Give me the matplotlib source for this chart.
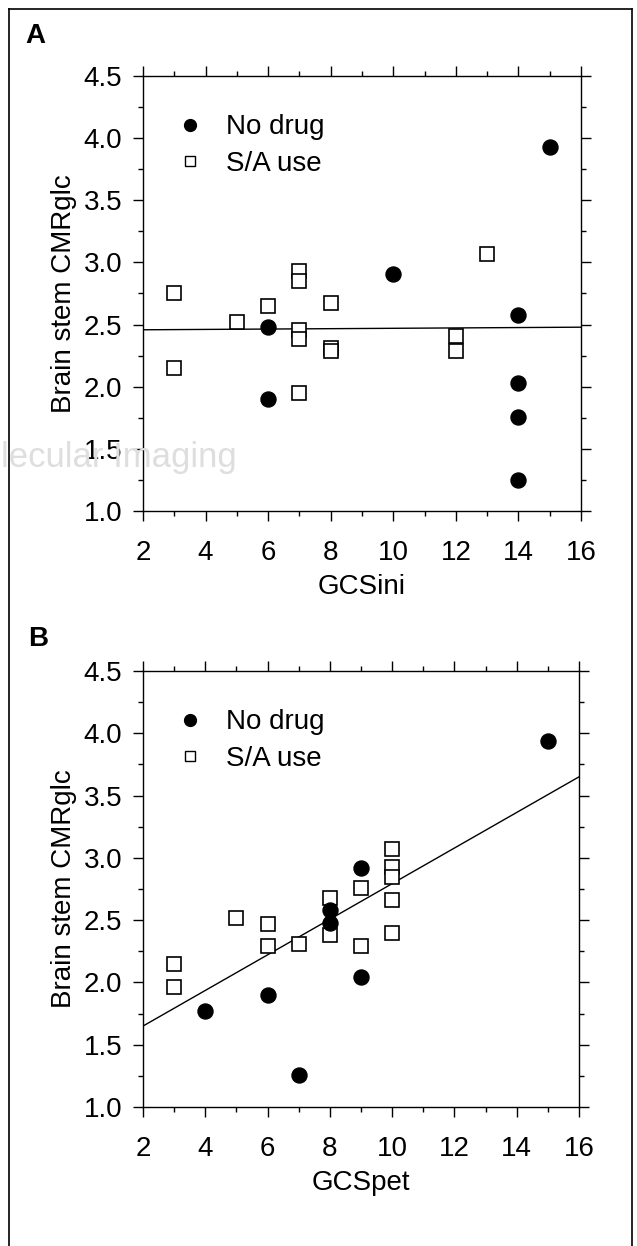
import matplotlib
matplotlib.use("Agg")
import matplotlib.pyplot as plt
from matplotlib.ticker import MultipleLocator, FormatStrFormatter
from matplotlib.lines import Line2D
import numpy as np

plt.rcParams['font.family'] = ['Liberation Sans', 'DejaVu Sans']

# ---------------- data ----------------
# Panel A: GCSini vs brain stem CMRglc
a_nodrug_x = [6, 6, 10, 14, 14, 14, 14, 15]
a_nodrug_y = [2.48, 1.90, 2.91, 2.58, 2.03, 1.76, 1.25, 3.93]
a_sa_x = [3, 3, 5, 6, 7, 7, 7, 7, 7, 8, 8, 8, 12, 12, 13]
a_sa_y = [2.75, 2.15, 2.52, 2.65, 2.93, 2.85, 2.46, 2.38, 1.95, 2.67, 2.31, 2.29, 2.41, 2.29, 3.07]
a_fit = (2.455, 0.0015)   # intercept, slope

# Panel B: GCSpet vs brain stem CMRglc
b_nodrug_x = [4, 6, 7, 8, 8, 9, 9, 15]
b_nodrug_y = [1.77, 1.90, 1.26, 2.58, 2.48, 2.92, 2.04, 3.94]
b_sa_x = [3, 3, 5, 6, 6, 7, 8, 8, 9, 9, 10, 10, 10, 10, 10]
b_sa_y = [2.15, 1.96, 2.52, 2.47, 2.29, 2.31, 2.68, 2.38, 2.76, 2.29, 3.07, 2.93, 2.85, 2.66, 2.40]
b_fit = (1.364, 0.1429)

x_range = [2, 16]
y_range = [1.0, 4.5]
legend_labels = ["No drug", "S/A use"]
y_label = "Brain stem CMRglc"
x_labels = ["GCSini", "GCSpet"]
panel_letters = ["A", "B"]
watermark = "lecular Imaging"

# ---------------- figure ----------------
W, H = 637, 1246
fig = plt.figure(figsize=(W / 100, H / 100), dpi=100)

def frac_box(l, t, r, b):
    return [l / W, 1 - b / H, (r - l) / W, (b - t) / H]

axA = fig.add_axes(frac_box(143, 76, 581, 511))
axB = fig.add_axes(frac_box(143, 671, 579, 1107))

FS = 20

def style(ax, xlabel):
    ax.set_xlim(*x_range)
    ax.set_ylim(*y_range)
    ax.xaxis.set_major_locator(MultipleLocator(2))
    ax.xaxis.set_minor_locator(MultipleLocator(1))
    ax.yaxis.set_major_locator(MultipleLocator(0.5))
    ax.yaxis.set_minor_locator(MultipleLocator(0.25))
    ax.yaxis.set_major_formatter(FormatStrFormatter('%.1f'))
    ax.tick_params(which='both', direction='out', top=True, right=True,
                   width=1.0, color='black')
    ax.tick_params(which='major', length=7)
    ax.tick_params(which='minor', length=3.5)
    ax.tick_params(axis='x', which='major', labelsize=FS, pad=14)
    ax.tick_params(axis='y', which='major', labelsize=FS, pad=8)
    for s in ax.spines.values():
        s.set_linewidth(1.0)
    ax.set_xlabel(xlabel, fontsize=FS, labelpad=6)
    ax.set_ylabel(y_label, fontsize=FS, labelpad=5)

def draw(ax, ndx, ndy, sax, say, fit, xlabel):
    style(ax, xlabel)
    xs = np.array(x_range, dtype=float)
    ax.plot(xs, fit[0] + fit[1] * xs, color='black', lw=1.0, zorder=2)
    ax.plot(sax, say, linestyle='none', marker='s', markersize=9.5,
            markerfacecolor='white', markeredgecolor='black', markeredgewidth=1.2, zorder=3)
    ax.plot(ndx, ndy, linestyle='none', marker='o', markersize=10.8,
            markerfacecolor='black', markeredgecolor='black', zorder=4)
    handles = [
        Line2D([], [], linestyle='none', marker='o', markersize=8.5,
               markerfacecolor='black', markeredgecolor='black'),
        Line2D([], [], linestyle='none', marker='s', markersize=7,
               markerfacecolor='white', markeredgecolor='black', markeredgewidth=1.0),
    ]
    ax.legend(handles, legend_labels, loc='upper left', bbox_to_anchor=(0.075, 0.912),
              frameon=False, fontsize=FS, handlelength=1.0, handletextpad=0.8,
              labelspacing=0.38, borderpad=0, borderaxespad=0)

draw(axA, a_nodrug_x, a_nodrug_y, a_sa_x, a_sa_y, a_fit, x_labels[0])
draw(axB, b_nodrug_x, b_nodrug_y, b_sa_x, b_sa_y, b_fit, x_labels[1])

# panel letters
fig.text(25 / W, 1 - 36 / H, panel_letters[0], fontsize=20, fontweight='bold', va='center', ha='left')
fig.text(28 / W, 1 - 639 / H, panel_letters[1], fontsize=20, fontweight='bold', va='center', ha='left')

# faint watermark
fig.text(1 / W, 1 - 457 / H, watermark, fontsize=25, color='#dedede',
         ha='left', va='center', zorder=0)

# outer frame
fig.add_artist(Line2D([9 / W, 9 / W], [0, 1 - 9 / H], transform=fig.transFigure, color='black', lw=1.2))
fig.add_artist(Line2D([9 / W, 632 / W], [1 - 9 / H, 1 - 9 / H], transform=fig.transFigure, color='black', lw=1.2))
fig.add_artist(Line2D([632 / W, 632 / W], [0, 1 - 9 / H], transform=fig.transFigure, color='black', lw=1.2))

fig.savefig("out.png", dpi=100)
